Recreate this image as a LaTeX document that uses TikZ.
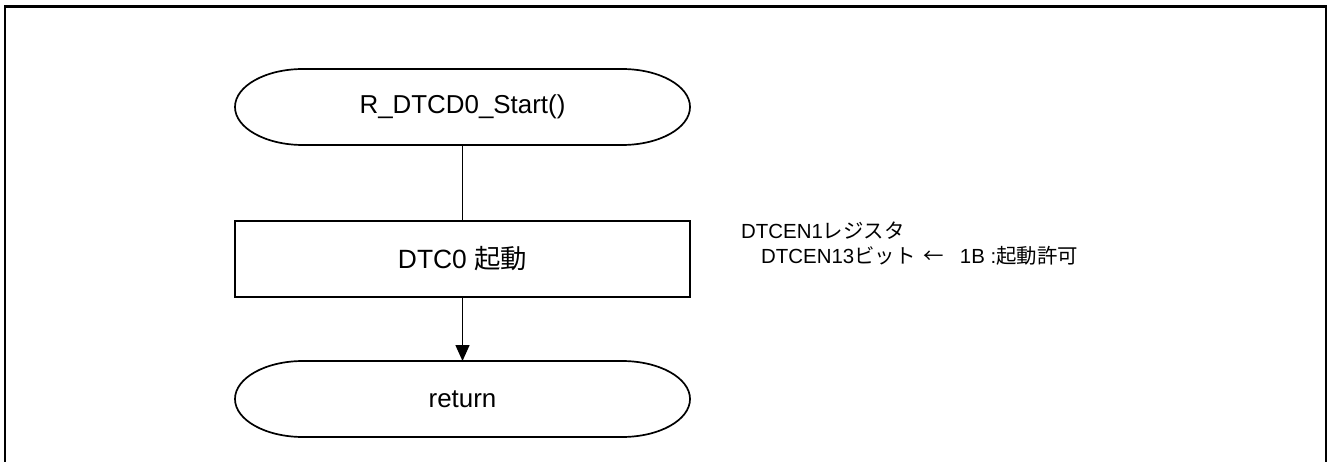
\documentclass[tikz,border=0pt]{standalone}
\usepackage{fontspec}
\setmainfont{Liberation Sans}
\newfontfamily\jp{Noto Sans CJK JP}
\usetikzlibrary{arrows.meta}
\tikzset{
  shapebox/.style={draw=none, minimum width=455bp, minimum height=76bp, inner sep=0pt, outer sep=0pt, font=\fontsize{26}{31}\selectfont},
  shapeline/.style={line width=1.7bp, black},
  procbox/.style={draw, line width=1.7bp, minimum width=455bp, minimum height=76bp, inner sep=0pt, outer sep=0pt, font=\fontsize{26.5}{31}\selectfont},
  conn/.style={line width=1.5bp, black},
  note/.style={anchor=base west, inner sep=0pt, font=\fontsize{20.5}{24}\selectfont},
  frameline/.style={line width=2.6bp, black}
}
\newcommand{\termoutline}[1]{%
  \draw[shapeline] ([xshift=68bp]#1.north west) -- ([xshift=-68bp]#1.north east)
    arc[start angle=90, end angle=-90, x radius=68bp, y radius=38bp]
    -- ([xshift=68bp]#1.south west)
    arc[start angle=270, end angle=90, x radius=68bp, y radius=38bp] -- cycle;}
\begin{document}
\begin{tikzpicture}[x=1bp, y=-1bp]
  \useasboundingbox (0,0) rectangle (1328,462);
  \draw[frameline] (5,470) -- (5,6.5) -- (1326,6.5) -- (1326,470);

  \node[shapebox] (t1) at (462.5,107) {R\_DTCD0\_Start()};
  \termoutline{t1}
  \node[procbox] (p1) at (462.5,259) {DTC0 {\jp 起動}};
  \node[shapebox] (t2) at (462.5,399) {return};
  \termoutline{t2}

  \draw[conn] (t1.south) -- (p1.north);
  \draw[conn, -{Triangle[length=16bp, width=14bp]}] (p1.south) -- (t2.north);

  \node[note] (n1) at (741,239) {DTCEN1{\jp レジスタ}};
  \node[note] (n2) at (761,264) {DTCEN13{\jp ビット}\hspace{8bp}{\jp ←}\hspace{16bp}1B :{\jp 起動許可}};
\end{tikzpicture}
\end{document}
